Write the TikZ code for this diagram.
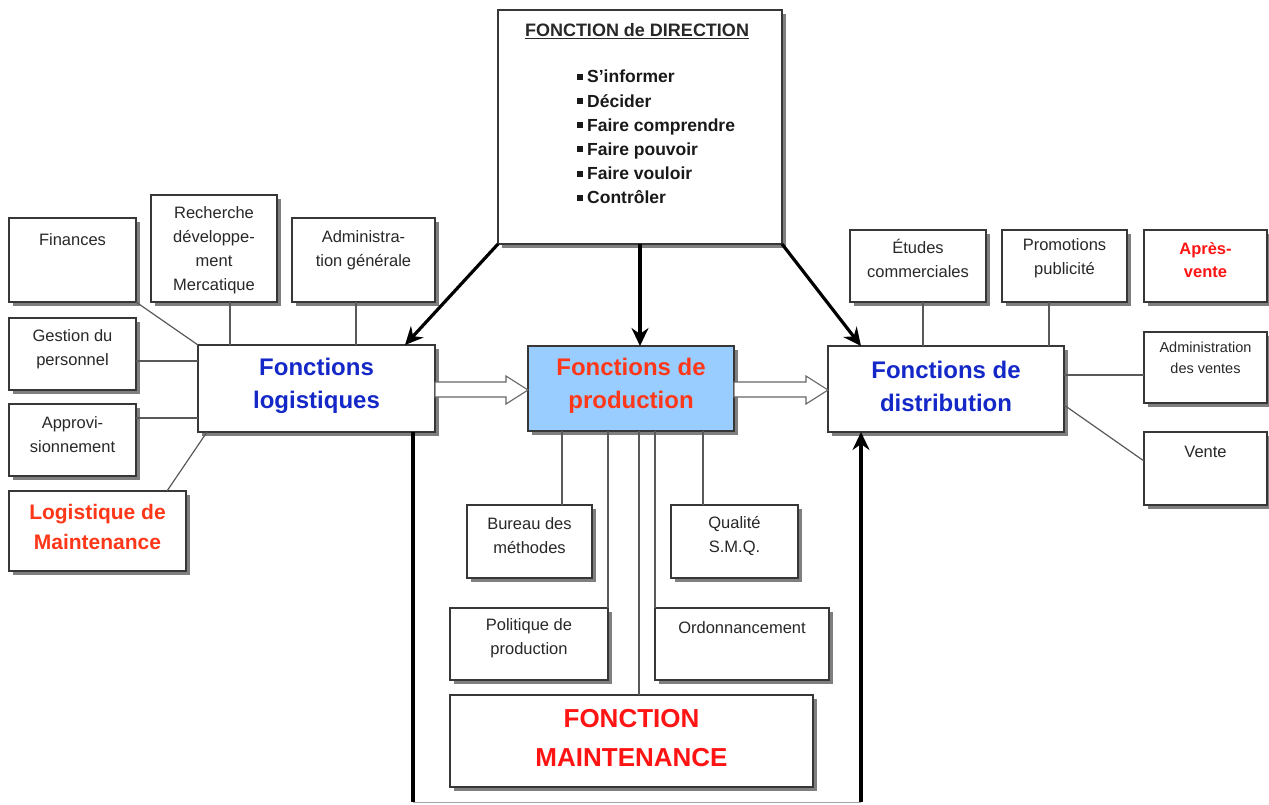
\documentclass[tikz,border=0pt]{standalone}
\usepackage{fontspec}
\setmainfont{Liberation Sans}
\usetikzlibrary{shadows,arrows.meta,calc}
\definecolor{fblue}{RGB}{20,40,200}
\definecolor{fred}{RGB}{255,20,20}
\definecolor{fora}{RGB}{255,55,25}
\definecolor{prodfill}{RGB}{153,204,255}
\definecolor{edgec}{RGB}{55,55,55}
\definecolor{txt}{RGB}{40,40,40}
\begin{document}
\begin{tikzpicture}[x=1pt,y=-1pt,
  box/.style={draw=edgec, line width=1.3pt, fill=white, inner sep=0pt, outer sep=0pt, anchor=north west,
    drop shadow={shadow xshift=3.5pt,shadow yshift=-3.5pt,fill=black,opacity=0.5}},
  lbl/.style={align=center, inner sep=0pt, text=txt, font=\fontsize{16.5}{24}\selectfont},
  big/.style={align=center, inner sep=0pt, font=\bfseries\fontsize{24}{33}\selectfont},
  link/.style={draw=black!65, line width=1.2pt},
  thick arrow/.style={line width=3.2pt, -{Stealth[length=18pt,width=17pt,inset=6pt]}},
  thick line/.style={line width=3.2pt},
  block/.style={draw=black!60, line width=1.1pt, fill=white}
]
\useasboundingbox (0,0) rectangle (1269,804);

% ---------- boxes ----------
\node[box, minimum width=284pt, minimum height=234pt] (dir) at (498,10) {};
\node[box, minimum width=127pt, minimum height=84pt] (fin) at (9,218) {};
\node[box, minimum width=126pt, minimum height=107pt] (rech) at (151,195) {};
\node[box, minimum width=143pt, minimum height=84pt] (adm) at (292,218) {};
\node[box, minimum width=127pt, minimum height=72pt] (gest) at (9,318) {};
\node[box, minimum width=127pt, minimum height=72pt] (appro) at (9,404) {};
\node[box, minimum width=177pt, minimum height=80pt] (logm) at (9,491) {};
\node[box, minimum width=237pt, minimum height=87pt] (log) at (198,345) {};
\node[box, minimum width=206pt, minimum height=85pt, fill=prodfill] (prod) at (528,346) {};
\node[box, minimum width=236pt, minimum height=86pt] (dist) at (828,346) {};
\node[box, minimum width=136pt, minimum height=72pt] (etu) at (850,230) {};
\node[box, minimum width=125pt, minimum height=72pt] (promo) at (1002,230) {};
\node[box, minimum width=123pt, minimum height=72pt] (apv) at (1144,230) {};
\node[box, minimum width=123pt, minimum height=71pt] (admv) at (1144,332) {};
\node[box, minimum width=123pt, minimum height=73pt] (vente) at (1144,432) {};
\node[box, minimum width=125pt, minimum height=73pt] (bur) at (467,505) {};
\node[box, minimum width=127pt, minimum height=73pt] (qual) at (671,505) {};
\node[box, minimum width=158pt, minimum height=72pt] (pol) at (450,608) {};
\node[box, minimum width=174pt, minimum height=72pt] (ord) at (655,608) {};
\node[box, minimum width=363pt, minimum height=92pt] (maint) at (450,695) {};

% ---------- texts ----------
\node[inner sep=0pt, text=txt, font=\bfseries\fontsize{18}{20}\selectfont] (dirt) at (637,31) {\underline{FONCTION de DIRECTION}};
\newcommand{\sqb}{\rule[3pt]{6pt}{6pt}\hspace{4pt}}
\node[anchor=north west, align=left, inner sep=0pt, text=black!90, font=\bfseries\fontsize{17.5}{24.2}\selectfont] (dirl) at (577,70)
  {\sqb S’informer\\
   \sqb Décider\\
   \sqb Faire comprendre\\
   \sqb Faire pouvoir\\
   \sqb Faire vouloir\\
   \sqb Contrôler};

\node[lbl] (fint) at (72.5,240) {Finances};
\node[lbl] (recht) at (214,250) {Recherche\\développe-\\ment\\Mercatique};
\node[lbl] (admt) at (363.5,250) {Administra-\\tion générale};
\node[lbl] (gestt) at (72.5,349) {Gestion du\\personnel};
\node[lbl] (apprort) at (72.5,435) {Approvi-\\sionnement};
\node[align=center, inner sep=0pt, text=fora, font=\bfseries\fontsize{21}{30}\selectfont] (logmt) at (97.5,527) {Logistique de\\Maintenance};
\node[big, text=fblue] (logt) at (316.5,386) {Fonctions\\logistiques};
\node[big, text=fora] (prodt) at (631,386) {Fonctions de\\production};
\node[big, text=fblue] (distt) at (946,386) {Fonctions de\\distribution};
\node[lbl] (etut) at (918,258) {Études\\commerciales};
\node[lbl] (promot) at (1064.5,258) {Promotions\\publicité};
\node[align=center, inner sep=0pt, text=fred, font=\bfseries\fontsize{16.5}{23}\selectfont] (apvt) at (1205.5,260) {Après-\\vente};
\node[lbl, font=\fontsize{14.5}{21}\selectfont] (admvt) at (1205.5,358) {Administration\\des ventes};
\node[lbl] (ventet) at (1205.5,452) {Vente};
\node[lbl] (burt) at (529.5,536) {Bureau des\\méthodes};
\node[lbl] (qualt) at (734.5,536) {Qualité\\S.M.Q.};
\node[lbl] (polt) at (529,638) {Politique de\\production};
\node[lbl] (ordt) at (742,628) {Ordonnancement};
\node[align=center, inner sep=0pt, text=fred, font=\bfseries\fontsize{26}{39}\selectfont] (maintt) at (631.5,738) {FONCTION\\MAINTENANCE};

% ---------- thin links ----------
\draw[link] (fin.south east) -- (log.north west);
\draw[link] (rech.south -| 230,0) -- (log.north -| 230,0);
\draw[link] (adm.south -| 356,0) -- (log.north -| 356,0);
\draw[link] (gest.east |- 0,361) -- (log.west |- 0,361);
\draw[link] (appro.east |- 0,418) -- (log.west |- 0,418);
\draw[link] (logm.north -| 167,0) -- (log.south -| 207,0);
\draw[link] (etu.south -| 923,0) -- (dist.north -| 923,0);
\draw[link] (promo.south -| 1049,0) -- (dist.north -| 1049,0);
\draw[link] (dist.east |- 0,375) -- (admv.west |- 0,375);
\draw[link] (dist.east |- 0,405) -- (vente.west |- 0,461);
\draw[link] (prod.south -| 562,0) -- (bur.north -| 562,0);
\draw[link] (prod.south -| 608,0) -- (pol.north east);
\draw[link] (prod.south -| 639,0) -- (maint.north -| 639,0);
\draw[link] (prod.south -| 655,0) -- (ord.north west);
\draw[link] (prod.south -| 703,0) -- (qual.north -| 703,0);

% ---------- thick arrows ----------
\draw[thick arrow] (dir.south west) -- (log.north -| 405,0);
\draw[thick arrow] (dir.south) -- (prod.north -| dir.south);
\draw[thick arrow] (dir.south east) -- (dist.north -| 861,0);
\coordinate (bl) at (413,802);
\coordinate (br) at (861,802);
\draw[thick line] (log.south -| bl) -- (bl);
\draw[draw=black!35, line width=1pt] (bl) -- (br);
\draw[thick arrow] (br) -- (dist.south -| br);

% ---------- hollow block arrows ----------
\draw[block] (log.east |- 0,382) -- (506,382) -- (506,376) -- (prod.west |- 0,390) -- (506,404) -- (506,397) -- (log.east |- 0,397) -- cycle;
\draw[block] (prod.east |- 0,382) -- (806,382) -- (806,376) -- (dist.west |- 0,390) -- (806,404) -- (806,397) -- (prod.east |- 0,397) -- cycle;
\end{tikzpicture}
\end{document}
